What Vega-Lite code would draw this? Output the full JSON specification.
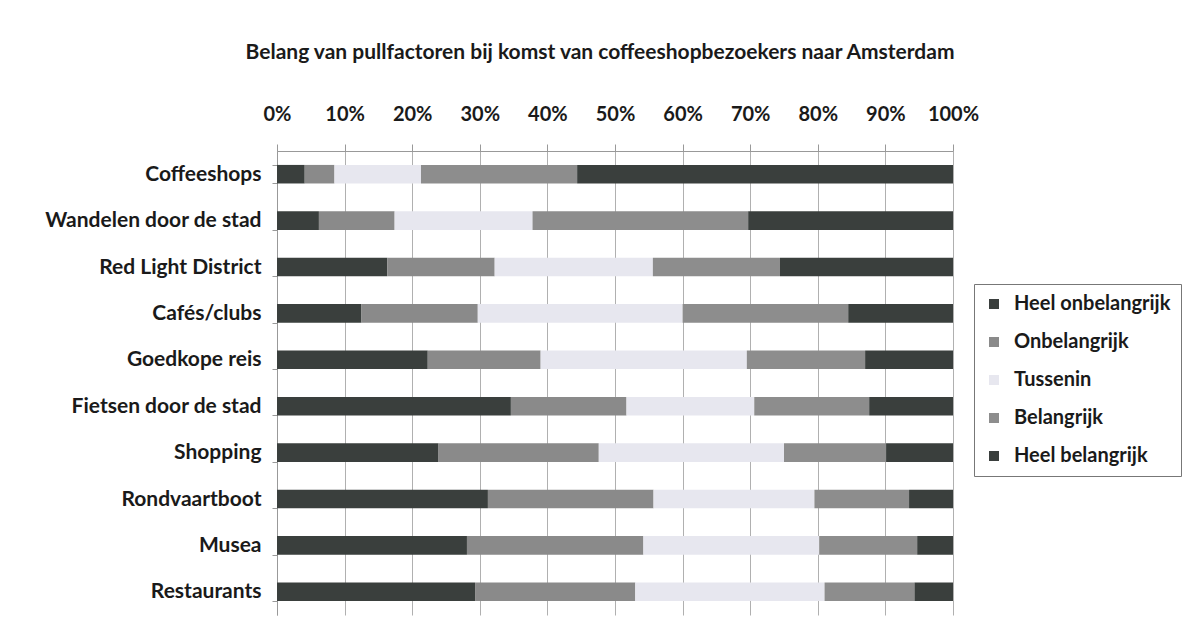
{
  "$schema": "https://vega.github.io/schema/vega-lite/v6.json",
  "width": 676,
  "height": 464,
  "autosize": "none",
  "padding": {"left": 277, "top": 151, "right": 233, "bottom": 11},
  "background": "white",
  "title": {
    "text": "Belang van pullfactoren bij komst van coffeeshopbezoekers naar Amsterdam",
    "font": "Lato",
    "fontSize": 21,
    "fontWeight": "bold",
    "color": "#1a1a1a",
    "anchor": "middle",
    "frame": "group",
    "dx": -15,
    "offset": 41
  },
  "data": {
    "values": [
      {"factor": "Coffeeshops", "cat": "Heel onbelangrijk", "o": 1, "v": 4.1},
      {"factor": "Coffeeshops", "cat": "Onbelangrijk", "o": 2, "v": 4.4},
      {"factor": "Coffeeshops", "cat": "Tussenin", "o": 3, "v": 12.8},
      {"factor": "Coffeeshops", "cat": "Belangrijk", "o": 4, "v": 23.1},
      {"factor": "Coffeeshops", "cat": "Heel belangrijk", "o": 5, "v": 55.6},
      {"factor": "Wandelen door de stad", "cat": "Heel onbelangrijk", "o": 1, "v": 6.2},
      {"factor": "Wandelen door de stad", "cat": "Onbelangrijk", "o": 2, "v": 11.2},
      {"factor": "Wandelen door de stad", "cat": "Tussenin", "o": 3, "v": 20.4},
      {"factor": "Wandelen door de stad", "cat": "Belangrijk", "o": 4, "v": 31.9},
      {"factor": "Wandelen door de stad", "cat": "Heel belangrijk", "o": 5, "v": 30.3},
      {"factor": "Red Light District", "cat": "Heel onbelangrijk", "o": 1, "v": 16.3},
      {"factor": "Red Light District", "cat": "Onbelangrijk", "o": 2, "v": 15.9},
      {"factor": "Red Light District", "cat": "Tussenin", "o": 3, "v": 23.4},
      {"factor": "Red Light District", "cat": "Belangrijk", "o": 4, "v": 18.8},
      {"factor": "Red Light District", "cat": "Heel belangrijk", "o": 5, "v": 25.6},
      {"factor": "Cafés/clubs", "cat": "Heel onbelangrijk", "o": 1, "v": 12.5},
      {"factor": "Cafés/clubs", "cat": "Onbelangrijk", "o": 2, "v": 17.2},
      {"factor": "Cafés/clubs", "cat": "Tussenin", "o": 3, "v": 30.3},
      {"factor": "Cafés/clubs", "cat": "Belangrijk", "o": 4, "v": 24.5},
      {"factor": "Cafés/clubs", "cat": "Heel belangrijk", "o": 5, "v": 15.5},
      {"factor": "Goedkope reis", "cat": "Heel onbelangrijk", "o": 1, "v": 22.3},
      {"factor": "Goedkope reis", "cat": "Onbelangrijk", "o": 2, "v": 16.7},
      {"factor": "Goedkope reis", "cat": "Tussenin", "o": 3, "v": 30.5},
      {"factor": "Goedkope reis", "cat": "Belangrijk", "o": 4, "v": 17.5},
      {"factor": "Goedkope reis", "cat": "Heel belangrijk", "o": 5, "v": 13.0},
      {"factor": "Fietsen door de stad", "cat": "Heel onbelangrijk", "o": 1, "v": 34.6},
      {"factor": "Fietsen door de stad", "cat": "Onbelangrijk", "o": 2, "v": 17.1},
      {"factor": "Fietsen door de stad", "cat": "Tussenin", "o": 3, "v": 18.9},
      {"factor": "Fietsen door de stad", "cat": "Belangrijk", "o": 4, "v": 17.0},
      {"factor": "Fietsen door de stad", "cat": "Heel belangrijk", "o": 5, "v": 12.4},
      {"factor": "Shopping", "cat": "Heel onbelangrijk", "o": 1, "v": 23.9},
      {"factor": "Shopping", "cat": "Onbelangrijk", "o": 2, "v": 23.7},
      {"factor": "Shopping", "cat": "Tussenin", "o": 3, "v": 27.4},
      {"factor": "Shopping", "cat": "Belangrijk", "o": 4, "v": 15.1},
      {"factor": "Shopping", "cat": "Heel belangrijk", "o": 5, "v": 9.9},
      {"factor": "Rondvaartboot", "cat": "Heel onbelangrijk", "o": 1, "v": 31.2},
      {"factor": "Rondvaartboot", "cat": "Onbelangrijk", "o": 2, "v": 24.5},
      {"factor": "Rondvaartboot", "cat": "Tussenin", "o": 3, "v": 23.8},
      {"factor": "Rondvaartboot", "cat": "Belangrijk", "o": 4, "v": 14.0},
      {"factor": "Rondvaartboot", "cat": "Heel belangrijk", "o": 5, "v": 6.5},
      {"factor": "Musea", "cat": "Heel onbelangrijk", "o": 1, "v": 28.1},
      {"factor": "Musea", "cat": "Onbelangrijk", "o": 2, "v": 26.1},
      {"factor": "Musea", "cat": "Tussenin", "o": 3, "v": 26.0},
      {"factor": "Musea", "cat": "Belangrijk", "o": 4, "v": 14.5},
      {"factor": "Musea", "cat": "Heel belangrijk", "o": 5, "v": 5.3},
      {"factor": "Restaurants", "cat": "Heel onbelangrijk", "o": 1, "v": 29.3},
      {"factor": "Restaurants", "cat": "Onbelangrijk", "o": 2, "v": 23.7},
      {"factor": "Restaurants", "cat": "Tussenin", "o": 3, "v": 28.0},
      {"factor": "Restaurants", "cat": "Belangrijk", "o": 4, "v": 13.3},
      {"factor": "Restaurants", "cat": "Heel belangrijk", "o": 5, "v": 5.7}
    ]
  },
  "mark": {"type": "bar"},
  "encoding": {
    "y": {
      "field": "factor",
      "type": "nominal",
      "sort": null,
      "title": null,
      "scale": {"paddingInner": 0.6, "paddingOuter": 0.3},
      "axis": {
        "labelFont": "Lato",
        "labelFontSize": 21,
        "labelFontWeight": "bold",
        "labelColor": "#1a1a1a",
        "labelPadding": 11,
        "labelLimit": 0,
        "tickSize": 5,
        "tickBand": "extent",
        "tickColor": "#999999",
        "domainColor": "#999999"
      }
    },
    "x": {
      "field": "v",
      "type": "quantitative",
      "stack": "normalize",
      "title": null,
      "axis": {
        "orient": "top",
        "format": ".0%",
        "values": [0, 0.1, 0.2, 0.3, 0.4, 0.5, 0.6, 0.7, 0.8, 0.9, 1],
        "labelFont": "Lato",
        "labelFontSize": 20,
        "labelFontWeight": "bold",
        "labelColor": "#1a1a1a",
        "labelPadding": 20,
        "labelFlush": false,
        "labelOverlap": false,
        "tickSize": 7,
        "tickColor": "#999999",
        "domainColor": "#999999",
        "grid": true,
        "gridColor": "#b0b0b0",
        "gridWidth": 1
      }
    },
    "color": {
      "field": "cat",
      "type": "nominal",
      "title": null,
      "scale": {
        "domain": ["Heel onbelangrijk", "Onbelangrijk", "Tussenin", "Belangrijk", "Heel belangrijk"],
        "range": ["#3a3f3d", "#8a8a8a", "#e7e7ef", "#8d8d8d", "#3a3f3d"]
      },
      "legend": {
        "orient": "none",
        "legendX": 697,
        "legendY": 133,
        "strokeColor": "#777777",
        "padding": 10,
        "symbolType": "square",
        "symbolSize": 100,
        "symbolStrokeWidth": 0,
        "labelFont": "Lato",
        "labelFontSize": 20,
        "labelFontWeight": "bold",
        "labelColor": "#1a1a1a",
        "labelLimit": 0,
        "rowPadding": 18,
        "labelOffset": 10
      }
    },
    "order": {"field": "o", "type": "quantitative"}
  },
  "config": {
    "view": {"stroke": null}
  }
}
